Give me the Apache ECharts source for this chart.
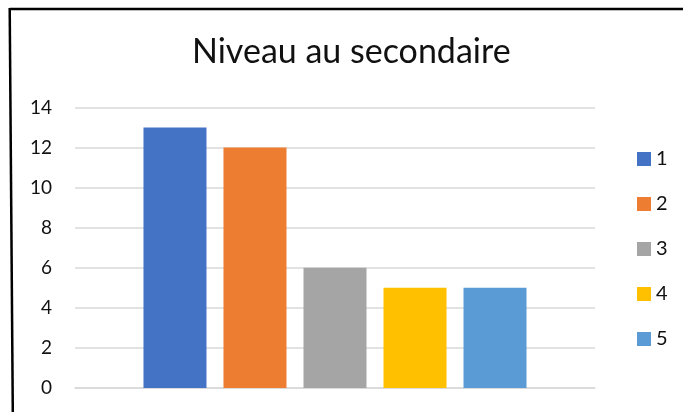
<!DOCTYPE html>
<html><head><meta charset="utf-8">
<script src="https://cdn.jsdelivr.net/npm/echarts@6/dist/echarts.min.js"></script>
<style>html,body{margin:0;padding:0;background:#fff}#c{width:683px;height:412px}</style>
</head><body><div id="c"></div>
<script>
const titleText = 'Niveau au secondaire';
const categories = [''];
const seriesNames = ['1', '2', '3', '4', '5'];
const seriesValues = [13, 12, 6, 5, 5];
const colors = ['#4472C4', '#ED7D31', '#A5A5A5', '#FFC000', '#5B9BD5'];
const yTicks = { min: 0, max: 14, interval: 2 };

const chart = echarts.init(document.getElementById('c'));
const font = 'Lato';
chart.setOption({
  animation: false,
  backgroundColor: '#ffffff',
  title: {
    text: titleText, left: 187, top: 30,
    textStyle: { fontFamily: font, fontWeight: 'normal', fontSize: 34, color: '#111' }
  },
  legend: {
    orient: 'vertical', left: 632, top: 144, itemGap: 25, itemWidth: 14, itemHeight: 14,
    icon: 'rect',
    textStyle: { fontFamily: font, fontSize: 20, color: '#111', padding: [0, 0, 0, 0] },
    data: seriesNames
  },
  grid: { left: 75, right: 88, top: 107.5, bottom: 24, containLabel: false },
  xAxis: {
    type: 'category', data: categories,
    axisLine: { lineStyle: { color: '#d9d9d9', width: 1.5 } },
    axisTick: { show: false }, axisLabel: { show: false }
  },
  yAxis: {
    type: 'value', min: yTicks.min, max: yTicks.max, interval: yTicks.interval,
    axisLine: { show: false }, axisTick: { show: false },
    splitLine: { lineStyle: { color: '#d9d9d9', width: 1.5 } },
    axisLabel: { fontFamily: font, fontSize: 19, color: '#111', margin: 23 }
  },
  series: seriesNames.map((n, i) => ({
    name: n, type: 'bar', data: [seriesValues[i]],
    itemStyle: { color: colors[i] },
    barWidth: 63, barGap: '27%', barCategoryGap: '27%'
  })),
  graphic: [
    { type: 'polyline', shape: { points: [[9.7, 9], [683, 9]] }, style: { stroke: '#000', lineWidth: 2.5, fill: null } },
    { type: 'polyline', shape: { points: [[9.7, 8], [12.8, 412]] }, style: { stroke: '#000', lineWidth: 2.5, fill: null } }
  ]
});
</script></body></html>
